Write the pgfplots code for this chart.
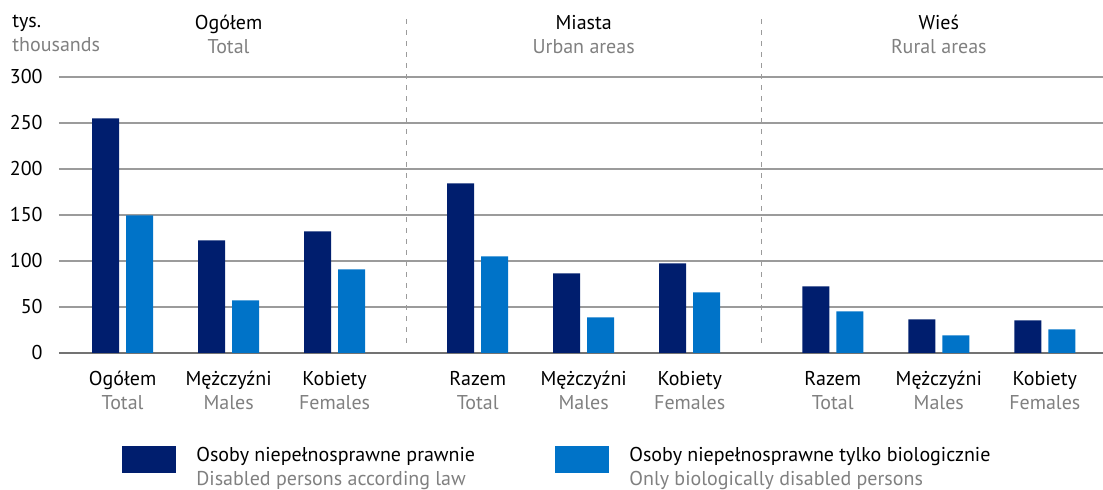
\documentclass[border=0pt]{standalone}
\usepackage{fontspec}
\setmainfont{PT Sans}
\usepackage{pgfplots}
\pgfplotsset{compat=1.18}
\definecolor{dk}{RGB}{0,30,110}
\definecolor{lb}{RGB}{0,115,200}
\definecolor{tg}{RGB}{128,128,128}
\definecolor{gl}{RGB}{155,155,155}
\definecolor{axg}{RGB}{115,115,115}
\newcommand{\fs}{\fontsize{10}{12}\selectfont}
\begin{document}
\begin{tikzpicture}[font=\fs]
\useasboundingbox (-29.5pt,-68.5pt) rectangle (522pt,176.5pt);
\begin{axis}[
  scale only axis, width=522pt, height=138pt,
  xmin=-0.6, xmax=9.249, ymin=0, ymax=300,
  axis line style={draw=none},
  major tick length=0pt,
  ytick={50,100,150,200,250,300},
  extra y ticks={0},
  ymajorgrids, grid style={gl, line width=0.6pt},
  extra y tick style={grid=major, grid style={axg, line width=1.2pt}},
  xtick={0,1,2,3.35,4.35,5.35,6.7,7.7,8.7},
  xticklabels={{Ogółem\\\textcolor{tg}{Total}},{Mężczyźni\\\textcolor{tg}{Males}},{Kobiety\\\textcolor{tg}{Females}},
               {Razem\\\textcolor{tg}{Total}},{Mężczyźni\\\textcolor{tg}{Males}},{Kobiety\\\textcolor{tg}{Females}},
               {Razem\\\textcolor{tg}{Total}},{Mężczyźni\\\textcolor{tg}{Males}},{Kobiety\\\textcolor{tg}{Females}}},
  tick label style={font=\fs},
  xticklabel style={align=center, anchor=base, yshift=-28.5pt, inner sep=0pt},
  yticklabel style={anchor=east, inner sep=0pt, xshift=-8pt},
  /pgf/number format/assume math mode=true,
  ybar, bar width=13.5pt,
  clip=false,
  legend columns=2, legend cell align=left,
  legend style={draw=none, fill=none, inner sep=0pt, font=\fs,
    at={(0.06034,-0.3298)}, anchor=north west,
    column sep=10pt, nodes={inner sep=0pt}},
]
\addplot[fill=dk, draw=none, bar shift=-8.5pt,
  legend image code/.code={\fill[dk] (0pt,-6.1pt) rectangle (27pt,7.4pt);}]
  coordinates {(0,255.1) (1,122.5) (2,132.2) (3.35,184.4) (4.35,86.6) (5.35,97.5) (6.7,72.5) (7.7,36.6) (8.7,35.5)};
\addlegendentry{\begin{tabular}{@{}p{169.5pt}@{}}Osoby niepełnosprawne prawnie\\\textcolor{tg}{Disabled persons according law}\end{tabular}}
\addplot[fill=lb, draw=none, bar shift=8.5pt,
  legend image code/.code={\fill[lb] (0pt,-6.1pt) rectangle (27pt,7.4pt);}]
  coordinates {(0,149.6) (1,57.2) (2,90.9) (3.35,105.1) (4.35,38.8) (5.35,65.9) (6.7,45.3) (7.7,19.2) (8.7,25.7)};
\addlegendentry{\begin{tabular}{@{}l@{}}Osoby niepełnosprawne tylko biologicznie\\\textcolor{tg}{Only biologically disabled persons}\end{tabular}}
\draw[gl, line width=0.5pt, dash pattern=on 2.5pt off 3pt] (axis cs:2.675,10.9) -- (axis cs:2.675,367.4);
\draw[gl, line width=0.5pt, dash pattern=on 2.5pt off 3pt] (axis cs:6.025,10.9) -- (axis cs:6.025,367.4);
\node[anchor=base, inner sep=0pt] at (axis cs:1,300) [yshift=23.5pt] {Ogółem};
\node[anchor=base, inner sep=0pt, text=tg] at (axis cs:1,300) [yshift=11.5pt] {Total};
\node[anchor=base, inner sep=0pt] at (axis cs:4.35,300) [yshift=23.5pt] {Miasta};
\node[anchor=base, inner sep=0pt, text=tg] at (axis cs:4.35,300) [yshift=11.5pt] {Urban areas};
\node[anchor=base, inner sep=0pt] at (axis cs:7.7,300) [yshift=23.5pt] {Wieś};
\node[anchor=base, inner sep=0pt, text=tg] at (axis cs:7.7,300) [yshift=11.5pt] {Rural areas};
\node[anchor=base west, inner sep=0pt] at (rel axis cs:0,1) [xshift=-23.5pt, yshift=24.5pt] {tys.};
\node[anchor=base west, inner sep=0pt, text=tg] at (rel axis cs:0,1) [xshift=-23.5pt, yshift=12.5pt] {thousands};
\end{axis}
\end{tikzpicture}
\end{document}
